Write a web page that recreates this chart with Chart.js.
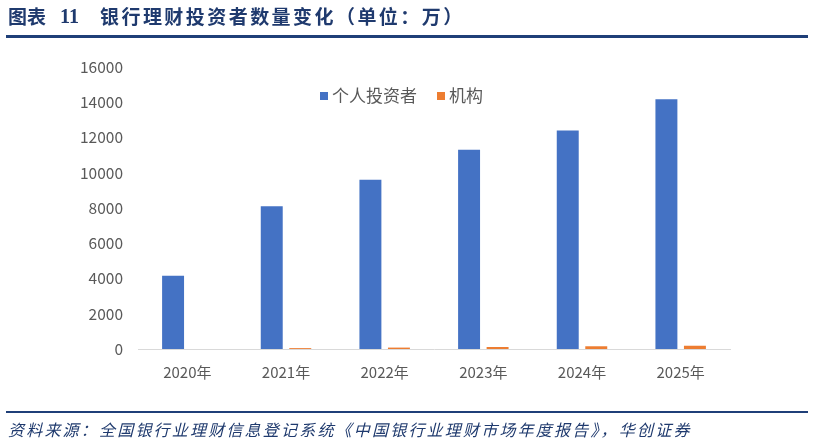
<!DOCTYPE html>
<html>
<head>
<meta charset="utf-8">
<script src="https://cdn.jsdelivr.net/npm/chart.js@4.4.1/dist/chart.umd.min.js"></script>
<style>
  html, body { margin:0; padding:0; background:#fff; }
  #wrap { position:relative; width:814px; height:444px; overflow:hidden; }
  canvas { position:absolute; left:0; top:0; }
  .t { position:absolute; color:#1F3A6E; font-family:"Noto Sans CJK SC", sans-serif; font-weight:bold; font-size:19px; line-height:1; white-space:nowrap; }
  .rule { position:absolute; left:6px; width:802px; background:#1F3F78; }
  .foot { position:absolute; left:8px; top:421px; color:#1F3A6E; font-family:"Noto Sans CJK SC", sans-serif; font-style:italic; font-size:16px; letter-spacing:2.2px; line-height:1; white-space:nowrap; }
</style>
</head>
<body>
<div id="wrap">
  <canvas id="c" width="814" height="444"></canvas>
  <div class="t" style="left:8px; top:6px;">图表</div>
  <div class="t" style="left:60px; top:6px; font-family:'Liberation Serif', serif; font-size:20px;">11</div>
  <div class="t" style="left:100px; top:6px; letter-spacing:2.45px;">银行理财投资者数量变化（单位：万）</div>
  <div class="rule" style="top:35px; height:3px;"></div>
  <div class="rule" style="top:411px; height:2px;"></div>
  <div class="foot">资料来源：全国银行业理财信息登记系统《中国银行业理财市场年度报告》，华创证券</div>
</div>
<script>
const categories = ['2020年', '2021年', '2022年', '2023年', '2024年', '2025年'];
const individualInvestors = [4150, 8100, 9600, 11300, 12400, 14170];
const institutionInvestors = [null, 50, 80, 115, 155, 185];
const seriesNames = ['个人投资者', '机构'];
const yTicks = [0, 2000, 4000, 6000, 8000, 10000, 12000, 14000, 16000];

const legendPlugin = {
  id: 'customLegend',
  afterDraw(chart) {
    const ctx = chart.ctx;
    ctx.save();
    ctx.font = '17px "Noto Sans CJK SC", sans-serif';
    ctx.textBaseline = 'middle';
    let x = 320;
    const y = 96;
    chart.data.datasets.forEach(ds => {
      ctx.fillStyle = ds.backgroundColor;
      ctx.fillRect(x, y - 4, 8, 8);
      x += 12;
      ctx.fillStyle = '#595959';
      ctx.fillText(ds.label, x, y);
      x += ctx.measureText(ds.label).width + 20;
    });
    ctx.restore();
  }
};

new Chart(document.getElementById('c'), {
  type: 'bar',
  data: {
    labels: categories,
    datasets: [
      { label: seriesNames[0], data: individualInvestors, backgroundColor: '#4472C4', borderWidth: 0 },
      { label: seriesNames[1], data: institutionInvestors, backgroundColor: '#ED7D31', borderWidth: 0 }
    ]
  },
  options: {
    responsive: false,
    animation: false,
    devicePixelRatio: 1,
    layout: { padding: { left: 0, top: 67, right: 84, bottom: 0 } },
    datasets: { bar: { categoryPercentage: 0.578, barPercentage: 0.77 } },
    plugins: { legend: { display: false }, tooltip: { enabled: false } },
    scales: {
      x: {
        grid: { display: false, drawTicks: false },
        border: { display: true, color: '#D9D9D9', width: 1 },
        ticks: { color: '#595959', font: { family: '"Noto Sans CJK SC", sans-serif', size: 15 }, padding: 14, maxRotation: 0 },
        afterFit(scale) { scale.height = 95; }
      },
      y: {
        min: 0, max: 16000,
        grid: { display: false, drawTicks: false },
        border: { display: false },
        afterBuildTicks(scale) { scale.ticks = yTicks.map(v => ({ value: v })); },
        ticks: { color: '#595959', font: { family: '"Noto Sans CJK SC", sans-serif', size: 15.5 }, padding: 15, callback: v => String(v) },
        afterFit(scale) { scale.width = 138; }
      }
    }
  },
  plugins: [legendPlugin]
});
</script>
</body>
</html>
